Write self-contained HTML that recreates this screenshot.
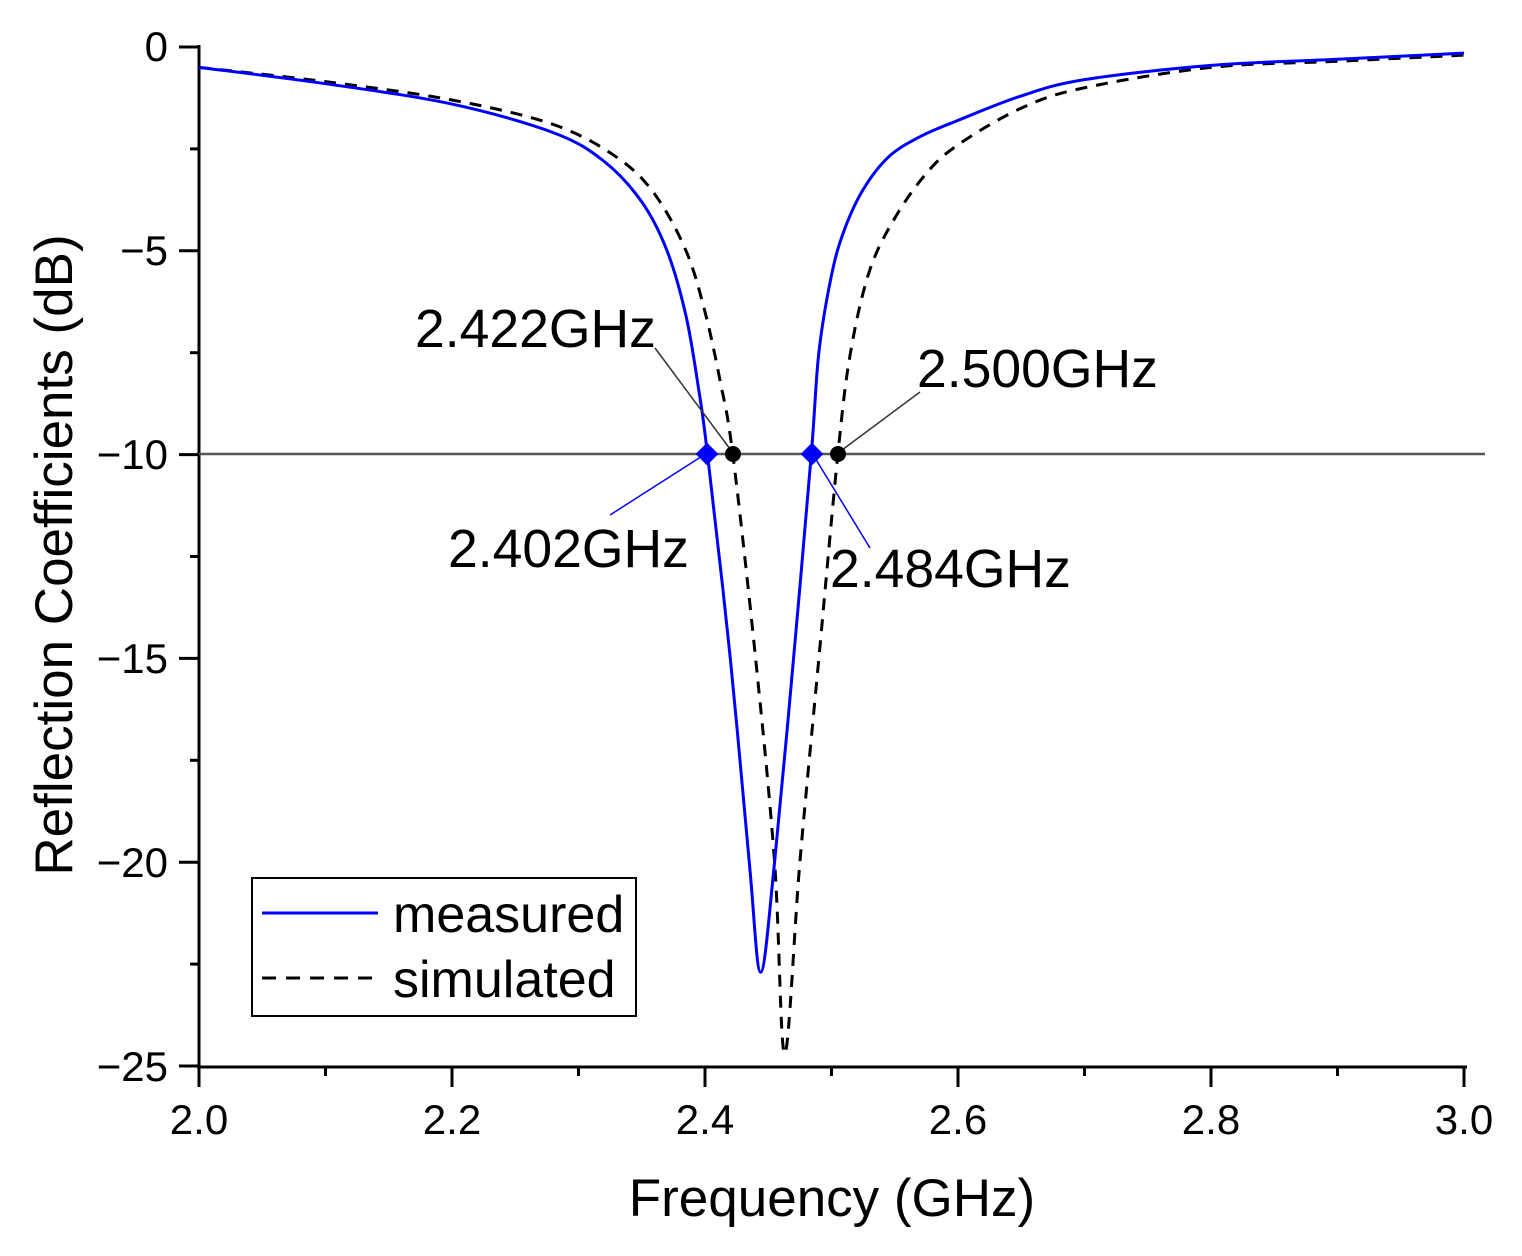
<!DOCTYPE html>
<html><head><meta charset="utf-8"><style>body{margin:0;background:#fff}svg{display:block}text{font-family:"Liberation Sans",Arial,sans-serif;fill:#000}</style></head>
<body>
<svg id="s" width="1522" height="1256" xmlns="http://www.w3.org/2000/svg">
<g stroke="#000" stroke-width="3" fill="none">
<line x1="199" y1="45" x2="199" y2="1069"/>
<line x1="197" y1="1067" x2="1467" y2="1067"/>
</g>
<g id="ticks" stroke="#000" stroke-width="3"></g>
<g font-size="42" text-anchor="end">
<text x="168" y="61">0</text><text x="168" y="265">−5</text><text x="168" y="469">−10</text><text x="168" y="673">−15</text><text x="168" y="877">−20</text><text x="168" y="1081">−25</text>
</g>
<g font-size="42" text-anchor="middle">
<text x="199" y="1134">2.0</text><text x="452" y="1134">2.2</text><text x="705" y="1134">2.4</text><text x="958" y="1134">2.6</text><text x="1211" y="1134">2.8</text><text x="1464" y="1134">3.0</text>
</g>
<text x="832" y="1216" font-size="53" text-anchor="middle">Frequency (GHz)</text>
<text transform="translate(72,555) rotate(-90)" font-size="53" text-anchor="middle">Reflection Coefficients (dB)</text>
<line x1="199" y1="454" x2="1485" y2="454" stroke="#555" stroke-width="2.5"/>
<path id="sim" fill="none" stroke="#000" stroke-width="3" stroke-dasharray="12,9"/>
<path id="mea" fill="none" stroke="#0000ff" stroke-width="3"/>
<g stroke-width="1.5">
<line x1="655" y1="348" x2="733" y2="453" stroke="#333"/>
<line x1="838" y1="453" x2="920" y2="392" stroke="#333"/>
<line x1="610" y1="515" x2="707" y2="453" stroke="#00f"/>
<line x1="812" y1="453" x2="870" y2="548" stroke="#00f"/>
</g>
<circle cx="733" cy="454" r="8" fill="#000"/><circle cx="838" cy="454" r="8" fill="#000"/>
<rect x="699" y="446" width="16" height="16" fill="#00f" transform="rotate(45 707 454)"/>
<rect x="804" y="446" width="16" height="16" fill="#00f" transform="rotate(45 812 454)"/>
<g font-size="53.5">
<text x="415" y="347">2.422GHz</text><text x="917" y="387">2.500GHz</text>
<text x="448" y="567">2.402GHz</text><text x="830" y="587">2.484GHz</text>
</g>
<rect x="252" y="878" width="384" height="138" fill="#fff" stroke="#000" stroke-width="2"/>
<line x1="262" y1="913" x2="378" y2="913" stroke="#00f" stroke-width="3"/>
<line x1="262" y1="978" x2="378" y2="978" stroke="#000" stroke-width="3" stroke-dasharray="14,10"/>
<g font-size="52"><text x="393" y="932">measured</text><text x="393" y="997">simulated</text></g>
</svg>
<script>
function X(f){return 199+(f-2)*1265}function Y(d){return 47-d*40.76}
var t='';for(var i=0;i<=10;i++){var x=X(2+i*0.1);t+='<line x1="'+x+'" y1="1067" x2="'+x+'" y2="'+(i%2?1076:1087)+'"/>';}
for(var j=0;j<=10;j++){var y=Y(-j*2.5);t+='<line x1="199" y1="'+y+'" x2="'+(j%2?190:179)+'" y2="'+y+'"/>';}
document.getElementById('ticks').innerHTML=t;
function path(p){var pts=p.map(function(a){return[X(a[0]),Y(a[1])]});var d='M'+pts[0][0]+','+pts[0][1];
for(var i=0;i<pts.length-1;i++){var p0=pts[Math.max(0,i-1)],p1=pts[i],p2=pts[i+1],p3=pts[Math.min(pts.length-1,i+2)];
d+=' C'+(p1[0]+(p2[0]-p0[0])/6)+','+(p1[1]+(p2[1]-p0[1])/6)+' '+(p2[0]-(p3[0]-p1[0])/6)+','+(p2[1]-(p3[1]-p1[1])/6)+' '+p2[0]+','+p2[1];}return d;}
var m=[[2,-0.5],[2.1,-0.9],[2.2,-1.4],[2.28,-2.1],[2.32,-2.8],[2.35,-3.8],[2.37,-5],[2.385,-6.6],[2.395,-8.4],[2.402,-10],[2.42,-15],[2.435,-20],[2.444,-22.7],[2.455,-20],[2.47,-15],[2.484,-10],[2.49,-7.5],[2.5,-5.6],[2.51,-4.5],[2.525,-3.5],[2.545,-2.7],[2.57,-2.2],[2.6,-1.8],[2.65,-1.2],[2.7,-0.8],[2.8,-0.45],[2.9,-0.3],[3,-0.15]];
var s=[[2,-0.5],[2.1,-0.85],[2.2,-1.3],[2.28,-1.9],[2.33,-2.7],[2.36,-3.6],[2.385,-5],[2.40,-6.5],[2.412,-8.2],[2.422,-10],[2.44,-15],[2.455,-20],[2.463,-24.7],[2.475,-20],[2.49,-15],[2.505,-10],[2.515,-7.5],[2.53,-5.5],[2.55,-4.2],[2.575,-3.1],[2.6,-2.4],[2.65,-1.5],[2.7,-1.0],[2.8,-0.5],[2.9,-0.35],[3,-0.2]];
document.getElementById('mea').setAttribute('d',path(m));document.getElementById('sim').setAttribute('d',path(s));
</script>
</body></html>
